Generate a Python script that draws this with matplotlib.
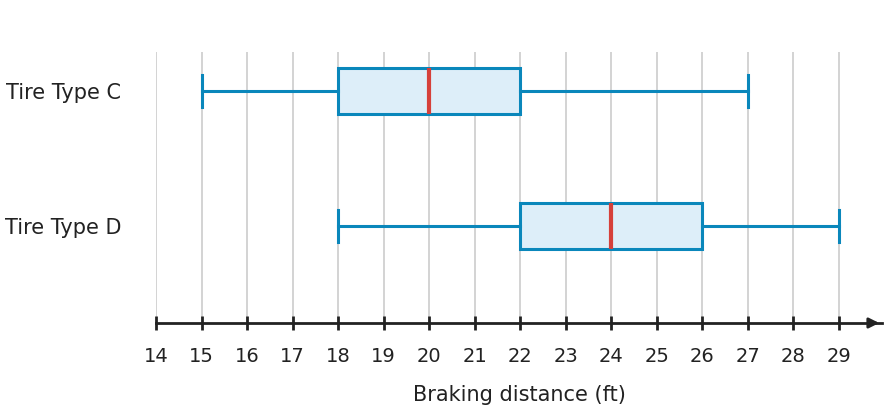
import matplotlib
matplotlib.use("Agg")
import matplotlib.pyplot as plt

categories = ["Tire Type D", "Tire Type C"]
mins = [18, 15]
q1s = [22, 18]
medians = [24, 20]
q3s = [26, 22]
maxs = [29, 27]
ticks = list(range(14, 30))

edge = "#0a87bb"
fill = "#ddeef9"
med = "#d6403a"
dark = "#222222"

fig = plt.figure(figsize=(8.88, 4.12), dpi=100)
ax = fig.add_axes([156/888, 89/412, 726/888, 271/412])
ax.set_xlim(14, 14 + 726/45.53)
ax.set_ylim(0.281, 0.281 + 271/135)

for t in ticks:
    ax.axvline(t, color="#cccccc", lw=1.2, zorder=0)

stats = [dict(whislo=a, q1=b, med=c, q3=d, whishi=e, label=l)
         for a, b, c, d, e, l in zip(mins, q1s, medians, q3s, maxs, categories)]
ax.bxp(stats, positions=[1, 2], vert=False, widths=0.34, capwidths=0.24,
       showfliers=False, patch_artist=True,
       boxprops=dict(facecolor=fill, edgecolor=edge, lw=2.2),
       whiskerprops=dict(color=edge, lw=2.2),
       capprops=dict(color=edge, lw=2.2),
       medianprops=dict(color=med, lw=3))

for s in ["top", "right", "left"]:
    ax.spines[s].set_visible(False)
ax.spines["bottom"].set_color(dark)
ax.spines["bottom"].set_linewidth(2)
ax.annotate("", xy=(1.0, 0), xycoords="axes fraction", xytext=(0.98, 0),
            arrowprops=dict(arrowstyle="-|>", color=dark, lw=2, mutation_scale=15))
ax.set_xticks(ticks)
ax.set_xticklabels([str(t) for t in ticks], fontsize=14, color=dark)
ax.tick_params(axis="x", direction="inout", length=10, width=2, color=dark, pad=12)
ax.tick_params(axis="y", length=0, pad=25, labelsize=15, labelcolor=dark)
ax.set_yticks([1, 2])
ax.set_yticklabels(categories)
ax.set_xlabel("Braking distance (ft)", fontsize=15, color=dark, labelpad=14)
fig.savefig("out.png", dpi=100)
